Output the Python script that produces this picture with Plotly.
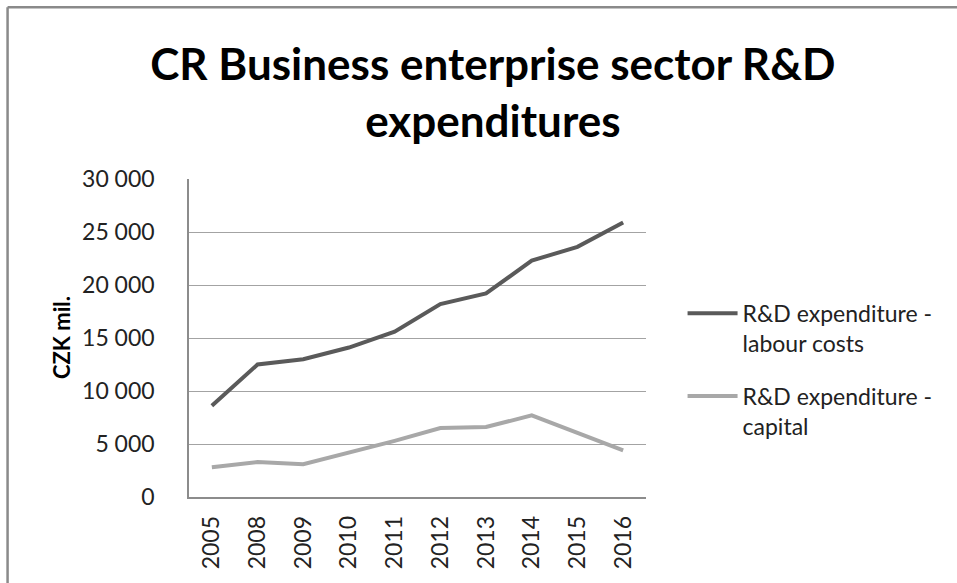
import plotly.graph_objects as go

# Business enterprise sector R&D expenditures, CZK mil.
years = ["2005", "2008", "2009", "2010", "2011", "2012", "2013", "2014", "2015", "2016"]
labour_costs = [8600, 12500, 13000, 14100, 15600, 18200, 19200, 22300, 23600, 25900]
capital = [2800, 3300, 3100, 4200, 5300, 6500, 6600, 7700, 6000, 4400]

y_ticks = [0, 5000, 10000, 15000, 20000, 25000, 30000]

FONT = "Lato, Carlito, Calibri, sans-serif"
GRID = "#a3a3a3"

fig = go.Figure()
fig.add_trace(go.Scatter(
    x=years, y=labour_costs, mode="lines",
    name="R&D expenditure -<br>labour costs",
    line=dict(color="#5a5a5a", width=4),
    legendgroup="a",
))
fig.add_trace(go.Scatter(
    x=years, y=capital, mode="lines",
    name="R&D expenditure -<br>capital",
    line=dict(color="#a8a8a8", width=4),
    legendgroup="b",
))

fig.update_layout(
    width=957, height=583,
    margin=dict(l=189, r=311, t=179, b=86),
    paper_bgcolor="white", plot_bgcolor="white",
    separators=", ",
    font=dict(family=FONT, size=23, color="#222222"),
    title=dict(
        text="<b>CR Business enterprise sector R&D<br>expenditures</b>",
        font=dict(family=FONT, size=44, color="#000000"),
        x=0.515, xanchor="center", xref="container",
        y=0.863, yanchor="middle", yref="container",
    ),
    showlegend=True,
    legend=dict(
        x=1.08, xanchor="left", y=0.40, yanchor="middle",
        font=dict(family=FONT, size=23, color="#222222"),
        valign="top", tracegroupgap=20,
        itemwidth=50, bgcolor="rgba(0,0,0,0)",
    ),
    xaxis=dict(
        type="category", range=[-0.5, len(years) - 0.5],
        tickangle=-90, showgrid=False,
        showline=True, linecolor="#8c8c8c", linewidth=1.5,
        ticks="", ticklabelstandoff=8,
        tickfont=dict(family=FONT, size=23, color="#222222"),
    ),
    yaxis=dict(
        range=[0, 30000], tickvals=y_ticks, tickformat=",d",
        showgrid=True, gridcolor=GRID, gridwidth=1.3,
        showline=True, linecolor="#8c8c8c", linewidth=1.5,
        zeroline=False, ticks="", ticklabelstandoff=28,
        tickfont=dict(family=FONT, size=23, color="#222222"),
    ),
    annotations=[dict(
        text="<b>CZK mil.</b>", textangle=-90,
        xref="paper", yref="paper", x=-0.28, y=0.5,
        xanchor="center", yanchor="middle", showarrow=False,
        font=dict(family=FONT, size=22, color="#000000"),
    )],
    shapes=[
        # chart frame (top and left edges)
        dict(type="line", xref="paper", yref="paper",
             x0=-0.397, x1=1.7, y0=1.54, y1=1.54,
             line=dict(color="#8a8a8a", width=2.5)),
        dict(type="line", xref="paper", yref="paper",
             x0=-0.397, x1=-0.397, y0=1.54, y1=-0.3,
             line=dict(color="#8a8a8a", width=2.5)),
    ],
)

fig.write_html("out.html")
